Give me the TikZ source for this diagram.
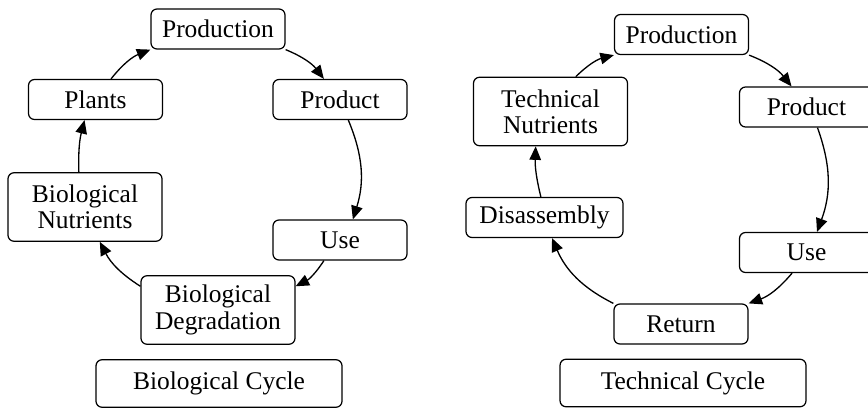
\documentclass[tikz,border=0pt]{standalone}
\usepackage{fontspec}
\setmainfont{Liberation Serif}
\usetikzlibrary{arrows.meta}
\tikzset{
    box/.style={draw, rounded corners=3.4pt, line width=0.7pt, align=center, inner sep=1pt,
        minimum width=2.68cm, minimum height=0.8cm, font=\fontsize{14.5}{15}\selectfont},
    bigbox/.style={box, minimum width=3.08cm, minimum height=1.37cm},
    cyclebox/.style={box, minimum width=4.92cm, minimum height=0.95cm},
    arr/.style={-{Triangle[length=0.27cm,width=0.23cm]}, line width=0.75pt}
}
\begin{document}
\begin{tikzpicture}[x=0.02cm,y=-0.02cm]
    \clip (0,0) rectangle (868,409);
    %biological cycle
    \node[box] (bprod) at (218,29) {Production};
    \node[box] (bproduct) at (340,99.5) {Product};
    \node[box] (buse) at (340,240) {Use};
    \node[bigbox] (bdeg) at (218,310) {Biological\\Degradation};
    \node[bigbox] (bnut) at (85,207) {Biological\\Nutrients};
    \node[box] (bplants) at (95.5,99.5) {Plants};
    \node[cyclebox] (bcycle) at (219,383.5) {Biological Cycle};
    \draw [arr] (bprod.south east) to[bend left=15] (bproduct.128);
    \draw [arr] (bproduct.292) to[bend left=20] (buse.58);
    \draw [arr] (buse.232) to[bend left=15] (bdeg.17);
    \draw [arr] (bdeg.163) to[bend left=15] (bnut.293);
    \draw [arr] (bnut.100) to[bend left=8] (bplants.242);
    \draw [arr] (bplants.53) to[bend left=15] (bprod.south west);
    %technical cycle
    \node[box] (tprod) at (681.5,34.5) {Production};
    \node[box] (tproduct) at (806.5,107) {Product};
    \node[box] (tuse) at (806.5,252.5) {Use};
    \node[box] (tret) at (681,324) {Return};
    \node[box, minimum width=3.14cm] (tdis) at (544.5,217.5) {Disassembly};
    \node[bigbox] (tnut) at (550.5,111.5) {Technical\\Nutrients};
    \node[cyclebox] (tcycle) at (683,383) {Technical Cycle};
    \draw [arr] (tprod.south east) to[bend left=15] (tproduct.126);
    \draw [arr] (tproduct.298) to[bend left=20] (tuse.63);
    \draw [arr] (tuse.235) to[bend left=15] (tret.north east);
    \draw [arr] (tret.north west) to[bend left=20] (tdis.290);
    \draw [arr] (tdis.100) to[bend left=8] (tnut.247);
    \draw [arr] (tnut.54) to[bend left=15] (tprod.south west);
\end{tikzpicture}
\end{document}
